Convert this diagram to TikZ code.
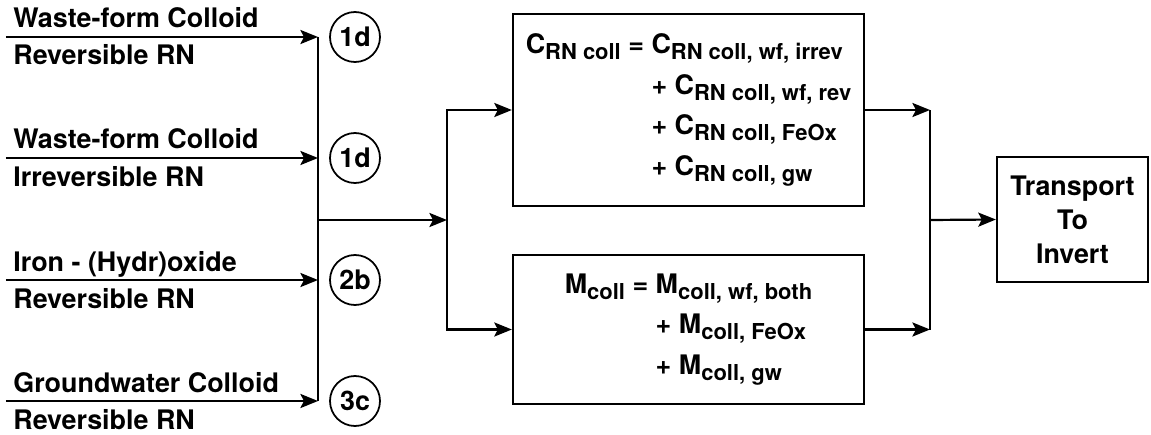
\documentclass[tikz,border=0pt]{standalone}
\usepackage{fontspec}
\setmainfont{TeX Gyre Heros}
\usetikzlibrary{arrows.meta}
\newcommand{\lowsub}[1]{\raisebox{-3.4pt}{\fontsize{12.5}{12.5}\selectfont #1}}

\begin{document}
\begin{tikzpicture}[
    font=\fontsize{15.3}{18}\selectfont\bfseries,
    flow/.style={draw, line width=1.25pt, -{Stealth[length=10pt, width=8pt, inset=2pt]}},
    wire/.style={draw, line width=1.25pt},
    tagcircle/.style={circle, draw, line width=1pt, minimum size=1cm, inner sep=0pt},
    eqbox/.style={draw, line width=1.3pt, align=left, inner sep=0pt,
                  minimum width=7.02cm, font=\fontsize{15.3}{23}\selectfont\bfseries}
]
\useasboundingbox (0,0) rectangle (23.02,8.68);

% --- Eingangs-Sammelschiene ---
\coordinate (bustop) at (6.36, 7.94);
\coordinate (busbot) at (6.36, 0.66);
\coordinate (busmid) at (6.36, 4.28);
\coordinate (split)  at (8.94, 4.28);
\coordinate (merge)  at (18.60, 4.28);

% --- Eingänge: Linie, Beschriftung oben/unten, Kennung im Kreis ---
\foreach \y/\upper/\lower/\tag [count=\i] in {
    7.94/Waste-form Colloid/Reversible RN/1d,
    5.52/Waste-form Colloid/Irreversible RN/1d,
    3.08/Iron - (Hydr)oxide/Reversible RN/2b,
    0.66/Groundwater Colloid/Reversible RN/3c} {
    \coordinate (in\i) at (0.12, \y);
    \node[anchor=base west, inner sep=0pt] (upper\i) at (0.26, \y+0.18) {\upper};
    \node[anchor=base west, inner sep=0pt] (lower\i) at (0.26, \y-0.56) {\lower};
    \node[tagcircle] (tag\i) at (7.10, \y) {\tag};
    \draw[flow] (in\i) -- (in\i -| bustop);
}
\draw[wire] (bustop) -- (busbot);

% --- Konzentrations- und Massenbilanz ---
\node[eqbox, minimum height=3.84cm] (conc) at (13.77, 6.48) {%
    C\lowsub{RN coll} = C\lowsub{RN coll, wf, irrev}\\
    \phantom{C\lowsub{RN coll} = }+ C\lowsub{RN coll, wf, rev}\\
    \phantom{C\lowsub{RN coll} = }+ C\lowsub{RN coll, FeOx}\\
    \phantom{C\lowsub{RN coll} = }+ C\lowsub{RN coll, gw}};
\node[eqbox, minimum height=2.98cm] (mass) at (13.77, 2.09) {%
    M\lowsub{coll} = M\lowsub{coll, wf, both}\\
    \phantom{M\lowsub{coll} = }+ M\lowsub{coll, FeOx}\\
    \phantom{M\lowsub{coll} = }+ M\lowsub{coll, gw}};

% --- Ausgang ---
\node[draw, line width=1.3pt, align=center, minimum width=3.02cm, minimum height=2.5cm,
      font=\fontsize{15.3}{19.3}\selectfont\bfseries] (invert) at (21.45, 4.29)
    {Transport\\To\\Invert};

% --- Verbindungen ---
\draw[flow] (busmid) -- (split);
\draw[flow] (split) |- (conc.west);
\draw[flow] (split) |- (mass.west);
\draw[flow] (conc.east) -- (conc.east -| merge);
\draw[flow] (mass.east) -- (mass.east -| merge);
\draw[wire] (conc.east -| merge) -- (mass.east -| merge);
\draw[flow] (merge) -- (invert.west);

\end{tikzpicture}
\end{document}
